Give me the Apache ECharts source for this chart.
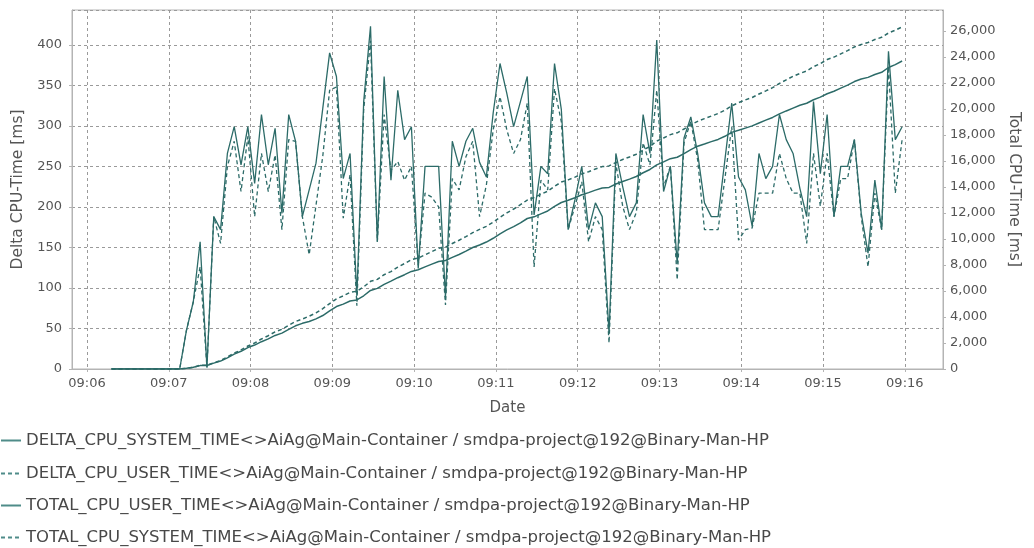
<!DOCTYPE html>
<html>
<head>
<meta charset="utf-8">
<title>CPU time</title>
<script src="https://cdn.jsdelivr.net/npm/echarts@6/dist/echarts.min.js"></script>
<style>
  html, body { margin: 0; padding: 0; background: #ffffff; }
  #chart { width: 1034px; height: 548px; }
</style>
</head>
<body>
<div id="chart"></div>
<script>
// Sampling: one sample every 5 seconds starting at 09:06:18
const sampleStart = '09:06:18';
const sampleStepSeconds = 5;

// Axis window (the plot spans slightly beyond the samples)
const axisStart = '09:05:49';
const axisEnd = '09:16:28';

const seriesNames = [
  'DELTA_CPU_SYSTEM_TIME<>AiAg@Main-Container / smdpa-project@192@Binary-Man-HP',
  'DELTA_CPU_USER_TIME<>AiAg@Main-Container / smdpa-project@192@Binary-Man-HP',
  'TOTAL_CPU_USER_TIME<>AiAg@Main-Container / smdpa-project@192@Binary-Man-HP',
  'TOTAL_CPU_SYSTEM_TIME<>AiAg@Main-Container / smdpa-project@192@Binary-Man-HP'
];

// Delta CPU system time per sample [ms]
const deltaSystem = [
  0, 0, 0, 0, 0, 0, 0, 0, 0, 0,
  0, 48, 83, 157, 2, 188, 172, 266, 299, 252,
  299, 229, 314, 252, 297, 192, 314, 281, 188, 221,
  254, 322, 390, 361, 235, 266, 90, 330, 423, 157,
  361, 233, 344, 283, 299, 124, 250, 250, 250, 89,
  281, 250, 281, 297, 255, 237, 316, 377, 340, 299,
  330, 361, 190, 250, 241, 377, 320, 172, 209, 250,
  172, 205, 188, 44, 266, 225, 188, 205, 314, 266,
  406, 219, 250, 130, 285, 311, 266, 205, 188, 188,
  258, 328, 237, 221, 176, 266, 235, 250, 314, 283,
  266, 223, 188, 330, 241, 314, 188, 250, 250, 283,
  192, 143, 233, 172, 392, 283, 299
];

// Delta CPU user time per sample [ms]
const deltaUser = [
  0, 0, 0, 0, 0, 0, 0, 0, 0, 0,
  0, 48, 83, 126, 2, 188, 155, 250, 281, 219,
  287, 188, 266, 219, 264, 172, 283, 281, 188, 141,
  202, 263, 344, 348, 186, 240, 78, 320, 405, 157,
  314, 245, 256, 233, 250, 128, 217, 212, 200, 79,
  235, 221, 262, 281, 188, 227, 295, 336, 295, 266,
  283, 328, 126, 233, 221, 346, 305, 172, 201, 231,
  157, 188, 172, 32, 254, 201, 172, 193, 279, 252,
  344, 225, 250, 110, 279, 306, 258, 172, 172, 172,
  235, 299, 159, 172, 174, 217, 217, 217, 266, 235,
  217, 217, 155, 266, 201, 266, 188, 235, 235, 283,
  188, 126, 217, 172, 373, 217, 283
];

// Total CPU user time [ms]
const totalUser = [
  0, 0, 0, 0, 0, 0, 0, 0, 0, 0,
  0, 50, 130, 260, 270, 450, 610, 860, 1140, 1360,
  1650, 1840, 2100, 2320, 2580, 2760, 3040, 3320, 3510, 3650,
  3850, 4110, 4460, 4800, 4990, 5230, 5310, 5630, 6040, 6200,
  6510, 6760, 7020, 7250, 7500, 7630, 7850, 8060, 8260, 8340,
  8580, 8800, 9060, 9340, 9530, 9760, 10050, 10390, 10690, 10950,
  11240, 11570, 11700, 11930, 12150, 12500, 12800, 12970, 13170, 13400,
  13560, 13750, 13920, 13960, 14220, 14420, 14600, 14800, 15090, 15340,
  15690, 15920, 16170, 16280, 16560, 16870, 17130, 17300, 17480, 17650,
  17890, 18190, 18350, 18520, 18690, 18910, 19130, 19340, 19610, 19840,
  20060, 20280, 20430, 20700, 20900, 21160, 21350, 21590, 21820, 22100,
  22290, 22420, 22640, 22810, 23180, 23400, 23680
];

// Total CPU system time [ms]
const totalSystem = [
  0, 0, 0, 0, 0, 0, 0, 0, 0, 0,
  0, 50, 130, 290, 290, 480, 650, 920, 1220, 1470,
  1770, 2000, 2310, 2560, 2860, 3050, 3370, 3650, 3840, 4060,
  4310, 4640, 5030, 5390, 5620, 5890, 5980, 6310, 6740, 6890,
  7250, 7490, 7830, 8110, 8410, 8530, 8780, 9030, 9280, 9370,
  9650, 9900, 10180, 10480, 10730, 10970, 11290, 11660, 12000, 12300,
  12630, 12990, 13180, 13430, 13670, 14050, 14370, 14540, 14750, 15000,
  15170, 15380, 15560, 15610, 15880, 16110, 16300, 16510, 16830, 17110,
  17530, 17760, 18020, 18160, 18450, 18770, 19040, 19250, 19440, 19640,
  19900, 20230, 20470, 20690, 20870, 21140, 21380, 21630, 21950, 22230,
  22500, 22720, 22910, 23240, 23480, 23790, 23980, 24230, 24480, 24760,
  24950, 25100, 25330, 25500, 25830, 26050, 26300
];

// Axis ranges
const deltaAxisMax = 443;
const deltaAxisStep = 50;
const totalAxisMax = 27600;
const totalAxisStep = 2000;

function clockToTime(hms) {
  const p = hms.split(':').map(Number);
  return new Date(2024, 0, 1, p[0], p[1], p[2]).getTime();
}
function pad2(n) { return (n < 10 ? '0' : '') + n; }

const t0 = clockToTime(sampleStart);
const times = deltaSystem.map((_, i) => t0 + i * sampleStepSeconds * 1000);
const pairs = (vals) => vals.map((v, i) => [times[i], v]);

const lineColor = '#2c6b68';
const legendLineColor = '#4f8c89';
const textColor = '#555555';
const fontFamily = "'DejaVu Sans', sans-serif";
const gridDash = { color: '#9a9a9a', type: [3, 3], width: 1 };
const axisGrey = '#b4b4b4';

// One legend block per row, stacked under the plot
const legendRowTops = [432, 465, 497, 529];
const legends = seriesNames.map((name, i) => ({
  orient: 'vertical',
  left: 0,
  top: legendRowTops[i],
  itemWidth: 20,
  itemHeight: 14,
  itemGap: 5,
  padding: 0,
  itemStyle: { opacity: 0 },
  lineStyle: { color: legendLineColor },
  textStyle: { color: '#484848', fontSize: 16.5, fontFamily: fontFamily },
  data: [name]
}));

const chart = echarts.init(document.getElementById('chart'), null, { renderer: 'canvas' });

chart.setOption({
  animation: false,
  backgroundColor: '#ffffff',
  textStyle: { fontFamily: fontFamily },
  grid: {
    left: 72, right: 91, top: 10, bottom: 179,
    show: true, borderColor: axisGrey, borderWidth: 1,
    containLabel: false, outerBoundsMode: 'none'
  },
  legend: legends,
  xAxis: {
    type: 'time',
    min: clockToTime(axisStart),
    max: clockToTime(axisEnd),
    minInterval: 60000,
    maxInterval: 60000,
    name: 'Date',
    nameLocation: 'middle',
    nameGap: 32,
    nameTextStyle: { color: textColor, fontSize: 15 },
    axisLine: { show: true, lineStyle: { color: axisGrey } },
    axisTick: { show: true, length: 3, lineStyle: { color: axisGrey } },
    axisLabel: {
      color: textColor, fontSize: 13, margin: 8, hideOverlap: false,
      formatter: (v) => { const d = new Date(v); return pad2(d.getHours()) + ':' + pad2(d.getMinutes()); }
    },
    splitLine: { show: true, lineStyle: gridDash }
  },
  yAxis: [
    {
      type: 'value',
      min: 0, max: deltaAxisMax, interval: deltaAxisStep,
      name: 'Delta CPU-Time [ms]',
      nameLocation: 'middle',
      nameGap: 40,
      nameRotate: 90,
      nameTextStyle: { color: textColor, fontSize: 15.5 },
      axisLine: { show: true, lineStyle: { color: axisGrey } },
      axisTick: { show: true, length: 3, lineStyle: { color: axisGrey } },
      axisLabel: { color: textColor, fontSize: 13, margin: 10, showMaxLabel: false },
      splitLine: { show: true, lineStyle: gridDash }
    },
    {
      type: 'value',
      position: 'right',
      min: 0, max: totalAxisMax, interval: totalAxisStep,
      name: 'Total CPU-Time [ms]',
      nameLocation: 'middle',
      nameGap: 62,
      nameRotate: -90,
      nameTextStyle: { color: textColor, fontSize: 15.5 },
      axisLine: { show: true, lineStyle: { color: axisGrey } },
      axisTick: { show: true, length: 3, lineStyle: { color: axisGrey } },
      axisLabel: {
        color: textColor, fontSize: 13, margin: 7, showMaxLabel: false,
        formatter: (v) => v.toLocaleString('en-US')
      },
      splitLine: { show: false }
    }
  ],
  series: [
    {
      name: seriesNames[0], type: 'line', yAxisIndex: 0,
      data: pairs(deltaSystem), symbol: 'none',
      lineStyle: { color: lineColor, width: 1.3, type: 'solid' },
      itemStyle: { color: lineColor }
    },
    {
      name: seriesNames[1], type: 'line', yAxisIndex: 0,
      data: pairs(deltaUser), symbol: 'none',
      lineStyle: { color: lineColor, width: 1.3, type: [4, 3] },
      itemStyle: { color: lineColor }
    },
    {
      name: seriesNames[2], type: 'line', yAxisIndex: 1,
      data: pairs(totalUser), symbol: 'none',
      lineStyle: { color: lineColor, width: 1.5, type: 'solid' },
      itemStyle: { color: lineColor }
    },
    {
      name: seriesNames[3], type: 'line', yAxisIndex: 1,
      data: pairs(totalSystem), symbol: 'none',
      lineStyle: { color: lineColor, width: 1.5, type: [4, 3] },
      itemStyle: { color: lineColor }
    }
  ]
});
</script>
</body>
</html>
